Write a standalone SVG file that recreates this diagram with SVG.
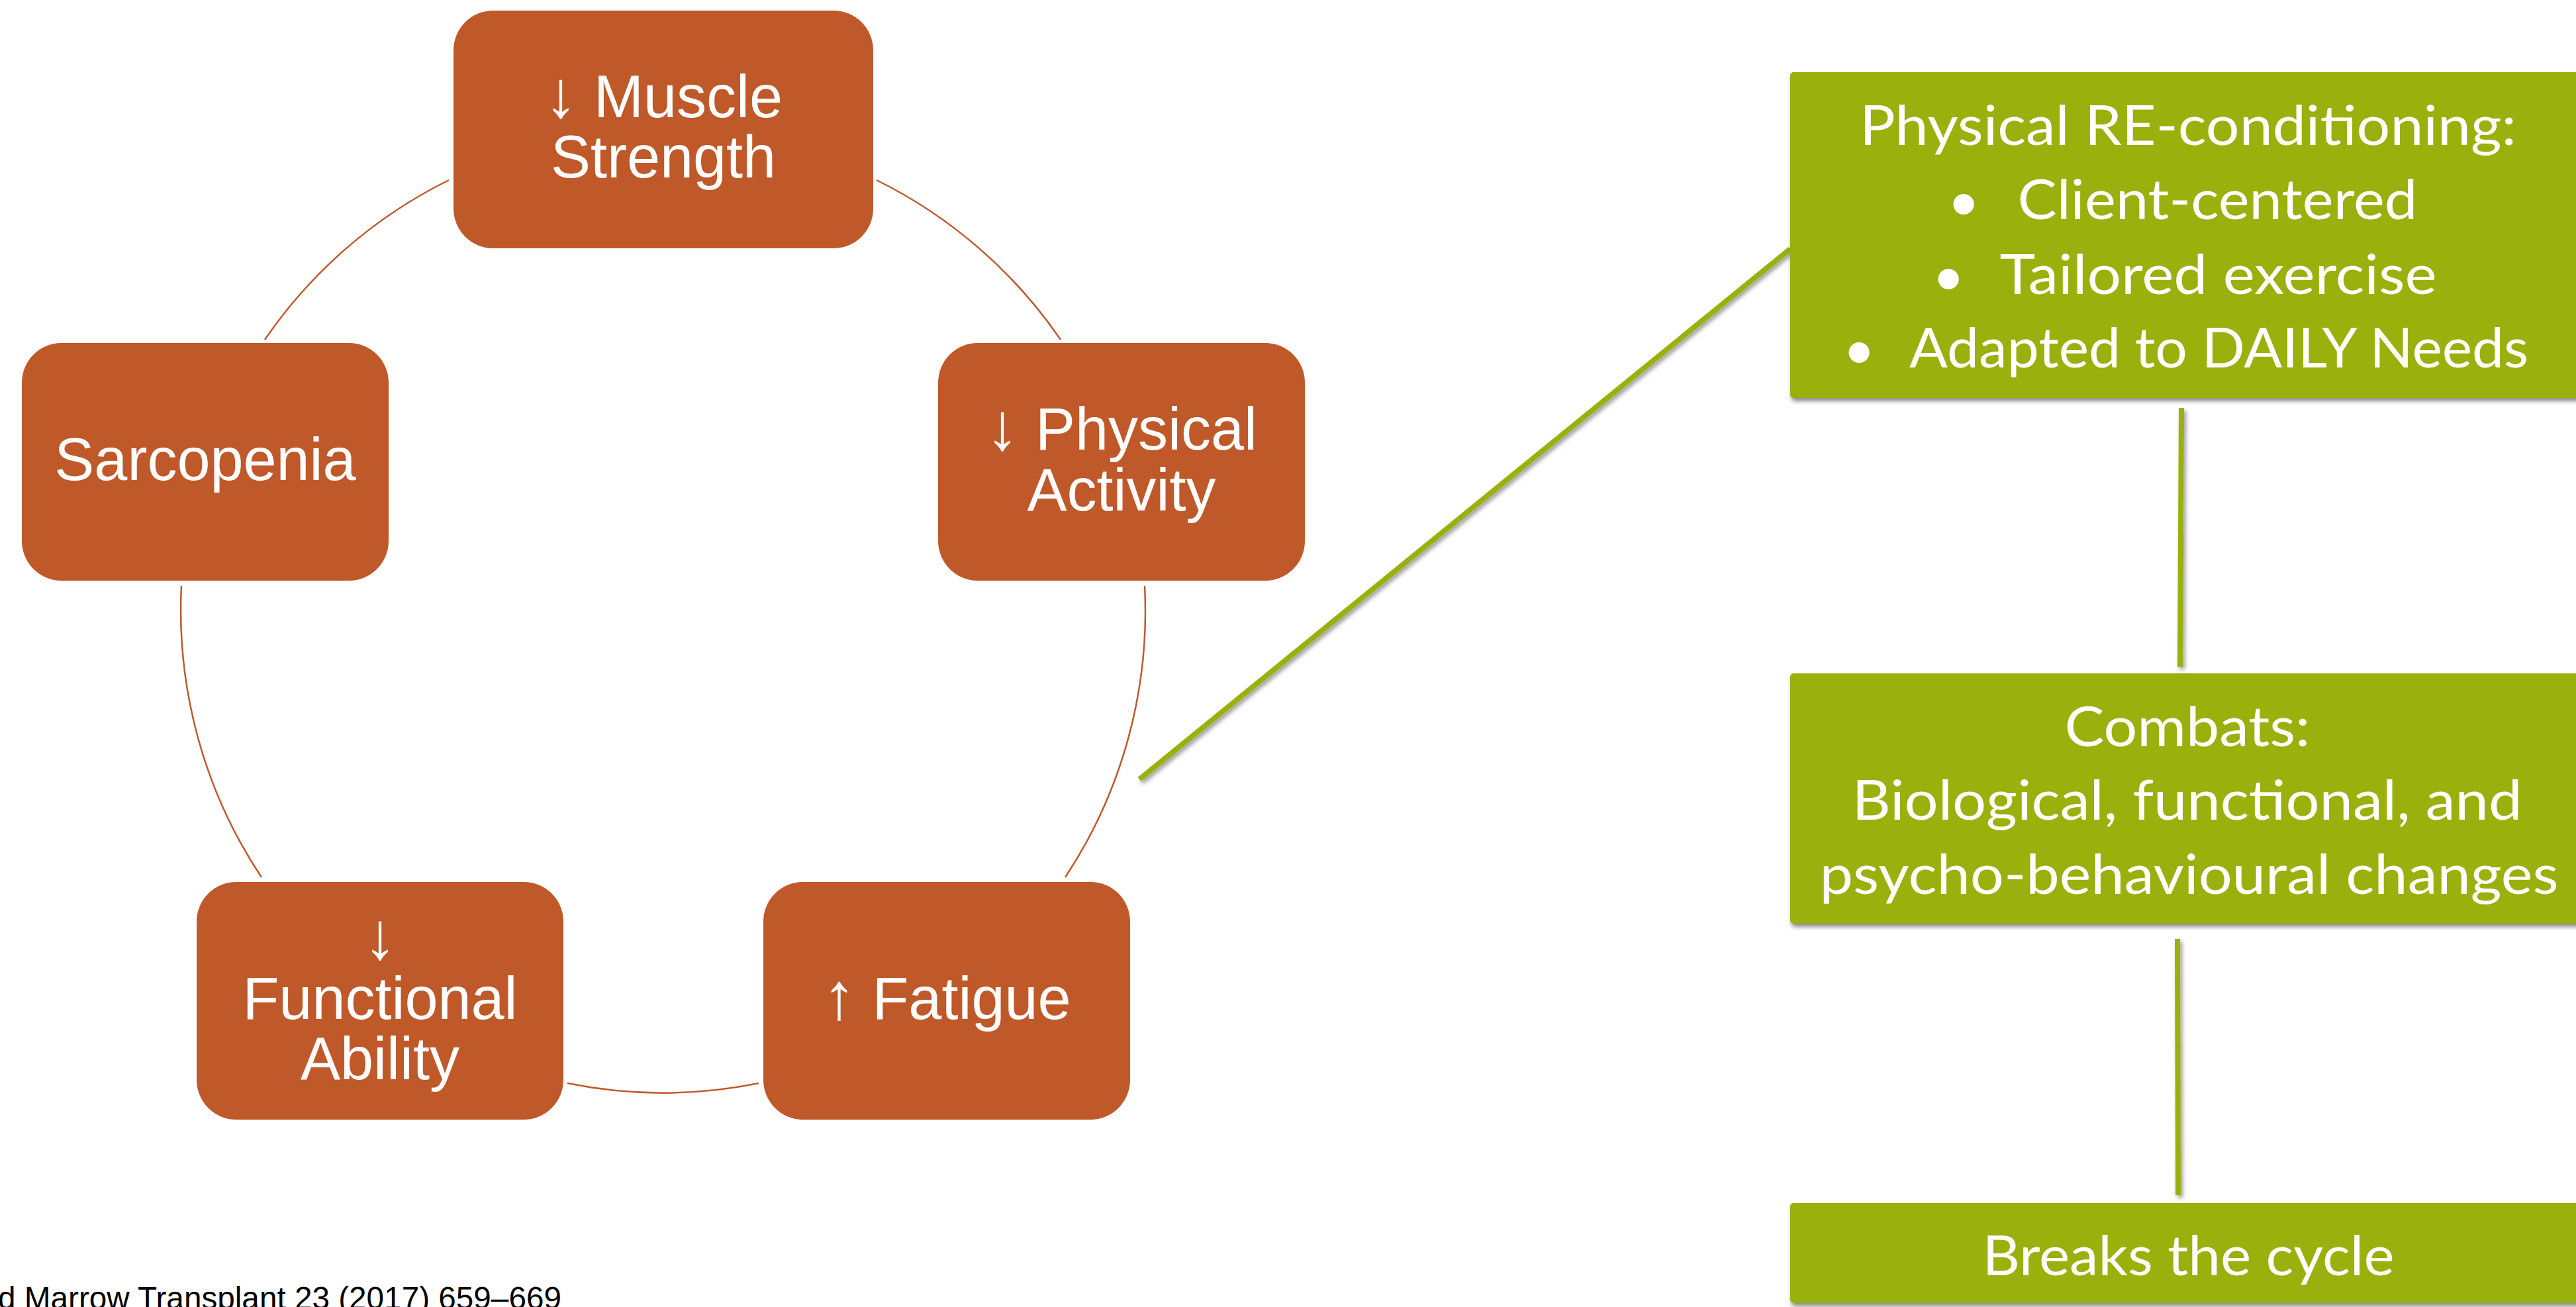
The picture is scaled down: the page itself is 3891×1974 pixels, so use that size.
<svg xmlns="http://www.w3.org/2000/svg" width="3891" height="1974" viewBox="0 0 3891 1974">
<defs>
<style>
.onode{fill:#C0592A;}
.otxt{font-family:"Liberation Sans",Arial,sans-serif;font-size:90px;fill:#FFFFFF;text-anchor:middle;}
.arr{font-size:100px;}
.arc{fill:none;stroke:#C0592A;stroke-width:2.5;}
.gnode{fill:#99B00B;filter:url(#sh);}
.gtxt{font-family:Lato,"Open Sans",sans-serif;font-size:84px;fill:#FFFFFF;text-anchor:middle;}
.gline{fill:none;stroke:#99B00B;stroke-width:8;filter:url(#shl);}
.foot{font-family:"Liberation Sans",Arial,sans-serif;font-size:47.7px;fill:#000000;}
</style>
<filter id="sh" x="-5%" y="-5%" width="110%" height="120%">
<feDropShadow dx="2" dy="5" stdDeviation="3" flood-color="#000000" flood-opacity="0.45"/>
</filter>
<filter id="shl" filterUnits="userSpaceOnUse" x="0" y="0" width="3891" height="1974">
<feDropShadow dx="3" dy="4" stdDeviation="3" flood-color="#000000" flood-opacity="0.4"/>
</filter>
</defs>
<rect width="3891" height="1974" fill="#FFFFFF"/>

<g id="connectors">
<path class="arc" d="M1324,272 A728,728 0 0 1 1602,513"/>
<path class="arc" d="M1729,885 A728,728 0 0 1 1609,1325"/>
<path class="arc" d="M1146,1636 A728,728 0 0 1 857,1636"/>
<path class="arc" d="M395,1325 A728,728 0 0 1 274,885"/>
<path class="arc" d="M400,513 A728,728 0 0 1 678,272"/>
<line class="gline" x1="1721" y1="1177" x2="2704" y2="376"/>
<line class="gline" x1="3295" y1="616" x2="3293" y2="1007"/>
<line class="gline" x1="3289" y1="1418" x2="3290" y2="1805"/>
</g>

<g id="node-muscle-strength">
<rect class="onode" x="685" y="16" width="634" height="359" rx="60" ry="60"/>
<text class="otxt" x="1002" y="177"><tspan class="arr">↓</tspan> Muscle</text>
<text class="otxt" x="1002" y="268">Strength</text>
</g>

<g id="node-physical-activity">
<rect class="onode" x="1417" y="518" width="554" height="359" rx="60" ry="60"/>
<text class="otxt" x="1694" y="679"><tspan class="arr">↓</tspan> Physical</text>
<text class="otxt" x="1694" y="771">Activity</text>
</g>

<g id="node-fatigue">
<rect class="onode" x="1153" y="1332" width="554" height="359" rx="60" ry="60"/>
<text class="otxt" x="1430" y="1539"><tspan class="arr">↑</tspan> Fatigue</text>
</g>

<g id="node-functional-ability">
<rect class="onode" x="297" y="1332" width="554" height="359" rx="60" ry="60"/>
<text class="otxt" x="574" y="1448"><tspan class="arr">↓</tspan></text>
<text class="otxt" x="574" y="1539">Functional</text>
<text class="otxt" x="574" y="1630">Ability</text>
</g>

<g id="node-sarcopenia">
<rect class="onode" x="33" y="518" width="554" height="359" rx="60" ry="60"/>
<text class="otxt" x="310" y="725">Sarcopenia</text>
</g>

<g id="node-reconditioning">
<rect class="gnode" x="2704" y="109" width="1202" height="492" rx="5" ry="5"/>
<text class="gtxt" x="3305" y="219" textLength="992" lengthAdjust="spacingAndGlyphs">Physical RE-conditioning:</text>
<text class="gtxt" x="2966" y="333">•</text>
<text class="gtxt" x="3349.5" y="331" textLength="604" lengthAdjust="spacingAndGlyphs">Client-centered</text>
<text class="gtxt" x="2943" y="446">•</text>
<text class="gtxt" x="3350.5" y="444" textLength="660" lengthAdjust="spacingAndGlyphs">Tailored exercise</text>
<text class="gtxt" x="2808" y="557">•</text>
<text class="gtxt" x="3351.5" y="555" textLength="935" lengthAdjust="spacingAndGlyphs">Adapted to DAILY Needs</text>
</g>

<g id="node-combats">
<rect class="gnode" x="2704" y="1017" width="1202" height="378" rx="5" ry="5"/>
<text class="gtxt" x="3304" y="1127" textLength="371" lengthAdjust="spacingAndGlyphs">Combats:</text>
<text class="gtxt" x="3303.5" y="1238" textLength="1012" lengthAdjust="spacingAndGlyphs">Biological, functional, and</text>
<text class="gtxt" x="3306.5" y="1350" textLength="1116" lengthAdjust="spacingAndGlyphs">psycho-behavioural changes</text>
</g>

<g id="node-breaks">
<rect class="gnode" x="2704" y="1817" width="1202" height="151" rx="5" ry="5"/>
<text class="gtxt" x="3305.5" y="1926" textLength="622" lengthAdjust="spacingAndGlyphs">Breaks the cycle</text>
</g>

<text class="foot" x="-3" y="1977">d Marrow Transplant 23 (2017) 659–669</text>
</svg>
